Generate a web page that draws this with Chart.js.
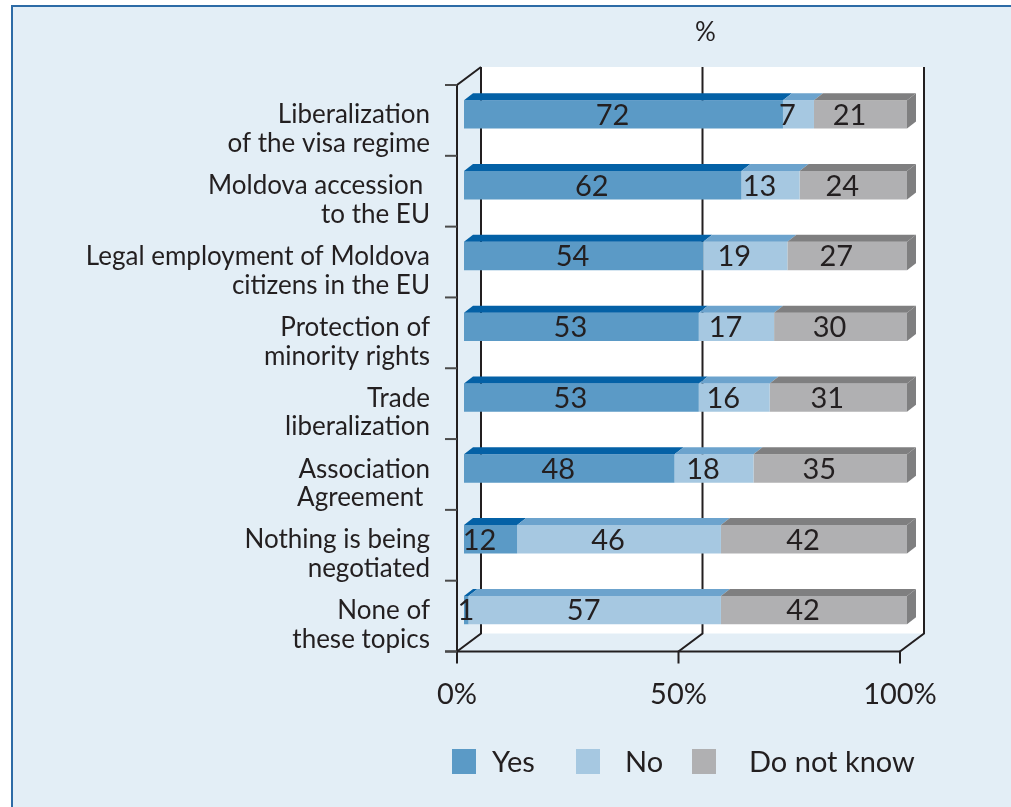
<!DOCTYPE html>
<html>
<head>
<meta charset="utf-8">
<script src="https://cdn.jsdelivr.net/npm/chart.js@4/dist/chart.umd.min.js"></script>
<style>
  html, body { margin: 0; padding: 0; background: #ffffff; }
  #wrap { width: 1011px; height: 807px; }
</style>
</head>
<body>
<div id="wrap"><canvas id="chart" width="1011" height="807"></canvas></div>
<script>
// topics asked about (two lines each, like the original)
const categories = [
    ['Liberalization', 'of the visa regime'],
    ['Moldova accession ', 'to the EU'],
    ['Legal employment of Moldova', 'citizens in the EU'],
    ['Protection of', 'minority rights'],
    ['Trade', 'liberalization'],
    ['Association', 'Agreement '],
    ['Nothing is being', 'negotiated'],
    ['None of', 'these topics']
];
const seriesNames = ['Yes', 'No', 'Do not know'];
const yesValues = [72, 62, 54, 53, 53, 48, 12, 1];
const noValues = [7, 13, 19, 17, 16, 18, 46, 57];
const dontKnowValues = [21, 24, 27, 30, 31, 35, 42, 42];
const tickValues = [0, 50, 100];

const frontColors = ['#5b9ac6', '#a6c8e1', '#b0b0b2'];
const topColors = ['#0461a6', '#6ca3cd', '#7f7f80'];
const textColor = '#231f20';
const FONT = 'Lato, "DejaVu Sans", sans-serif';

// rows are drawn as 100% bars, labels keep the raw numbers
const totals = yesValues.map((v, i) => v + noValues[i] + dontKnowValues[i]);
const toPercent = arr => arr.map((v, i) => v * 100 / totals[i]);

const DX = 9, DY = 7; // depth of the bars

const frame3d = {
    id: 'frame3d',
    beforeDraw(chart) {
        const c = chart.ctx;
        const xs = chart.scales.x, ys = chart.scales.y;
        const area = chart.chartArea;
        c.save();
        c.fillStyle = '#ffffff';
        c.fillRect(0, 0, chart.width, chart.height);
        c.fillStyle = '#e3eef6';
        c.fillRect(12, 6, chart.width - 12, chart.height - 6);
        c.fillStyle = '#2d6ba6';
        c.fillRect(11, 5, chart.width - 11, 2);
        c.fillRect(11, 5, 2, chart.height - 5);

        const backL = xs.getPixelForValue(0) + 17;
        const backR = xs.getPixelForValue(100) + 17;
        const backT = area.top - 12;
        const backB = area.bottom - 12;
        c.fillStyle = '#ffffff';
        c.fillRect(backL, backT, backR - backL, backB - backT);

        c.strokeStyle = textColor;
        c.lineWidth = 2;
        tickValues.forEach(v => {
            const bx = xs.getPixelForValue(v) + 17;
            const fx = xs.getPixelForValue(v) - 7;
            c.beginPath();
            c.moveTo(bx, backT);
            c.lineTo(bx, backB);
            c.lineTo(fx, area.bottom + 6);
            c.lineTo(fx, area.bottom + 18);
            c.stroke();
        });

        // front left axis, floor edge and category ticks
        const fl = xs.getPixelForValue(0) - 7;
        c.beginPath();
        c.moveTo(backL, backT);
        c.lineTo(fl, area.top + 6);
        c.lineTo(fl, area.bottom + 6);
        c.moveTo(fl - 12, area.bottom + 6);
        c.lineTo(xs.getPixelForValue(100) - 7, area.bottom + 6);
        c.stroke();
        c.strokeStyle = '#4a4a4a';
        for (let i = 0; i <= categories.length; i++) {
            const y = ys.getPixelForValue(i - 0.5) + 6;
            c.beginPath();
            c.moveTo(fl - 12, y);
            c.lineTo(fl, y);
            c.stroke();
        }

        c.fillStyle = textColor;
        c.font = '26px ' + FONT;
        c.textAlign = 'center';
        c.textBaseline = 'middle';
        c.fillText('%', xs.getPixelForValue(50) + 20, 33);
        c.restore();
    },
    afterDatasetsDraw(chart) {
        const c = chart.ctx;
        const xs = chart.scales.x;
        const last = chart.data.datasets.length - 1;
        c.save();
        chart.data.datasets.forEach((ds, d) => {
            chart.getDatasetMeta(d).data.forEach(bar => {
                const top = bar.y - bar.height / 2;
                const bottom = bar.y + bar.height / 2;
                c.fillStyle = topColors[d];
                c.beginPath();
                c.moveTo(bar.base, top);
                c.lineTo(bar.x, top);
                c.lineTo(bar.x + DX, top - DY);
                c.lineTo(bar.base + DX, top - DY);
                c.closePath();
                c.fill();
                if (d === last) {
                    c.beginPath();
                    c.moveTo(bar.x, top);
                    c.lineTo(bar.x + DX, top - DY);
                    c.lineTo(bar.x + DX, bottom - DY);
                    c.lineTo(bar.x, bottom);
                    c.closePath();
                    c.fill();
                }
            });
        });

        c.fillStyle = textColor;
        c.font = '29px ' + FONT;
        c.textAlign = 'center';
        c.textBaseline = 'middle';
        chart.data.datasets.forEach((ds, d) => {
            chart.getDatasetMeta(d).data.forEach((bar, i) => {
                const cx = Math.max((bar.x + bar.base) / 2 - 11, xs.getPixelForValue(0) + 2);
                c.fillText(String(ds.raw[i]), cx, bar.y + 1);
            });
        });

        // legend
        const boxX = [452, 576, 692];
        const textX = [492, 625, 749];
        c.textAlign = 'left';
        seriesNames.forEach((name, i) => {
            c.fillStyle = frontColors[i];
            c.fillRect(boxX[i], 749, 24, 25);
            c.fillStyle = textColor;
            c.fillText(name, textX[i], 763);
        });
        c.restore();
    }
};

const ctx = document.getElementById('chart').getContext('2d');
new Chart(ctx, {
    type: 'bar',
    data: {
        labels: categories,
        datasets: [
            { label: seriesNames[0], data: toPercent(yesValues), raw: yesValues, backgroundColor: frontColors[0] },
            { label: seriesNames[1], data: toPercent(noValues), raw: noValues, backgroundColor: frontColors[1] },
            { label: seriesNames[2], data: toPercent(dontKnowValues), raw: dontKnowValues, backgroundColor: frontColors[2] }
        ]
    },
    options: {
        indexAxis: 'y',
        responsive: false,
        animation: false,
        barPercentage: 0.4,
        categoryPercentage: 1.0,
        layout: { padding: { top: 79, right: 104, bottom: 61.5, left: 0 } },
        plugins: {
            legend: { display: false },
            tooltip: { enabled: false }
        },
        scales: {
            x: {
                stacked: true,
                min: 0,
                max: 100,
                afterFit: s => { s.height = 100; },
                grid: { display: false, drawTicks: false },
                border: { display: false },
                ticks: {
                    stepSize: 50,
                    labelOffset: -7,
                    padding: 32,
                    color: textColor,
                    font: { family: FONT, size: 29 },
                    callback: v => v + '%'
                }
            },
            y: {
                stacked: true,
                afterFit: s => { s.width = 464; },
                grid: { display: false, drawTicks: false },
                border: { display: false },
                ticks: {
                    padding: 34,
                    labelOffset: 15,
                    color: textColor,
                    font: { family: FONT, size: 26, lineHeight: 1.1 }
                }
            }
        }
    },
    plugins: [frame3d]
});
</script>
</body>
</html>
